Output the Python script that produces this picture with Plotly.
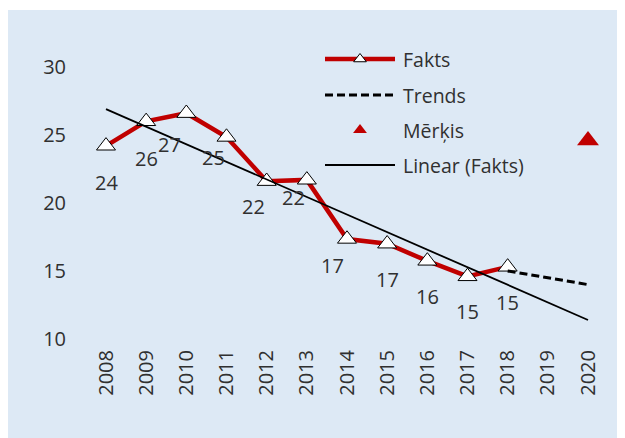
import plotly.graph_objects as go

# data
years = [2008, 2009, 2010, 2011, 2012, 2013, 2014, 2015, 2016, 2017, 2018]
fakts = [24.2, 26.0, 26.6, 24.85, 21.6, 21.7, 17.35, 17.0, 15.74, 14.6, 15.3]
trend_years = [2018, 2019, 2020]
trend_vals = [15.0, 14.5, 14.0]
target_years = [2020]
target_vals = [24.6]
linear_years = [2008, 2020]
linear_vals = [26.9, 11.4]
tick_years = list(range(2008, 2021))

# label nudges (px) so the numbers sit like in the original
label_dx = [0, 0, -17, -13, -13, -13, -15, 0, 0, 0, 0]
label_dy = [37, 37, 31, 20, 25, 18, 26, 36, 36, 35, 36]

RED = "#C00000"
BG = "#DDE9F5"
TXT = "#303030"
FONT = "Open Sans"

W, H = 625, 438
OFF = 8  # page body margin shifts the figure by this much
# plot area in screen pixels (as seen on the page)
PX0, PX1, PY0, PY1 = 70, 620, 20, 345
L, T = PX0 - OFF, PY0 - OFF
R, B = W - (PX1 - OFF), H - (PY1 - OFF)
px_year = 40.17

fig = go.Figure()

fig.add_trace(go.Scatter(
    x=years, y=fakts, mode="lines+markers", name="Fakts",
    line=dict(color=RED, width=4.5),
    marker=dict(symbol="triangle-up", size=16.5, color="white",
                line=dict(color="black", width=1)),
    showlegend=False,
))
fig.add_trace(go.Scatter(
    x=trend_years, y=trend_vals, mode="lines", name="Trends",
    line=dict(color="black", width=3, dash="8px,4px"),
    showlegend=False,
))
fig.add_trace(go.Scatter(
    x=target_years, y=target_vals, mode="markers", name="Mērķis",
    marker=dict(symbol="triangle-up", size=19, color=RED),
    showlegend=False,
))
fig.add_trace(go.Scatter(
    x=linear_years, y=linear_vals, mode="lines", name="Linear (Fakts)",
    line=dict(color="black", width=1.8),
    showlegend=False,
))

for yr, v, dx, dy in zip(years, fakts, label_dx, label_dy):
    fig.add_annotation(x=yr, y=v, text=f"{v:.0f}", showarrow=False,
                       xshift=dx, yshift=-dy,
                       font=dict(family=FONT, size=20, color=TXT))

# hand-drawn legend on a pixel overlay axis (screen px)
legend_rows = [("Fakts", 59), ("Trends", 95), ("Mērķis", 130), ("Linear (Fakts)", 165)]
lx0, lx1, ltext = 325, 395, 401
fig.add_trace(go.Scatter(x=[lx0, lx1], y=[59, 59], mode="lines", xaxis="x2", yaxis="y2",
                         line=dict(color=RED, width=4.5), showlegend=False, hoverinfo="skip"))
fig.add_trace(go.Scatter(x=[(lx0 + lx1) / 2], y=[59], mode="markers", xaxis="x2", yaxis="y2",
                         marker=dict(symbol="triangle-up", size=11, color="white",
                                     line=dict(color="black", width=1)),
                         showlegend=False, hoverinfo="skip"))
fig.add_trace(go.Scatter(x=[lx0, lx1], y=[95, 95], mode="lines", xaxis="x2", yaxis="y2",
                         line=dict(color="black", width=3, dash="8px,4px"),
                         showlegend=False, hoverinfo="skip"))
fig.add_trace(go.Scatter(x=[(lx0 + lx1) / 2], y=[130], mode="markers", xaxis="x2", yaxis="y2",
                         marker=dict(symbol="triangle-up", size=12, color=RED),
                         showlegend=False, hoverinfo="skip"))
fig.add_trace(go.Scatter(x=[lx0, lx1], y=[165, 165], mode="lines", xaxis="x2", yaxis="y2",
                         line=dict(color="black", width=1.8),
                         showlegend=False, hoverinfo="skip"))
for label, ly in legend_rows:
    fig.add_annotation(x=ltext, y=ly, xref="x2", yref="y2", text=label, showarrow=False,
                       xanchor="left", yanchor="middle",
                       font=dict(family=FONT, size=19.5, color=TXT))

# light blue panel (white strip on top like the original)
pw, ph = PX1 - PX0, PY1 - PY0
fig.add_shape(type="rect", xref="paper", yref="paper", layer="below",
              x0=(OFF - PX0) / pw, x1=(W + OFF - PX0) / pw,
              y0=(PY1 - H - OFF) / ph, y1=(PY1 - 10) / ph,
              fillcolor=BG, line_width=0)

fig.update_layout(
    width=W, height=H,
    margin=dict(l=L, r=R, t=T, b=B),
    paper_bgcolor="white",
    plot_bgcolor="rgba(0,0,0,0)",
    font=dict(family=FONT, size=20, color=TXT),
    xaxis=dict(range=[2008 - (106 - PX0) / px_year, 2020 + (PX1 - 588) / px_year],
               tickvals=tick_years, ticktext=[str(y) for y in tick_years],
               tickangle=-90, showgrid=False, zeroline=False, showline=False,
               ticks="", ticklabelstandoff=0),
    yaxis=dict(range=[10 - (PY1 - 339) / 13.6, 30 + (67 - PY0) / 13.6],
               tickvals=[10, 15, 20, 25, 30],
               showgrid=False, zeroline=False, showline=False, ticks="",
               ticklabelstandoff=3),
    xaxis2=dict(overlaying="x", anchor="y2", range=[PX0, PX1], visible=False),
    yaxis2=dict(overlaying="y", anchor="x2", range=[PY1, PY0], visible=False),
)

fig.write_html("out.html")
